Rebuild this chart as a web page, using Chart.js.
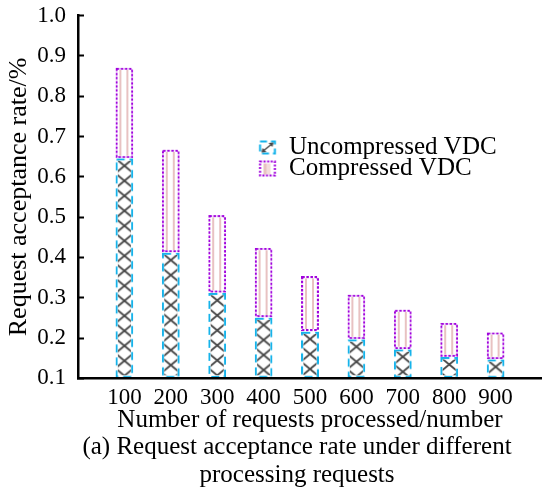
<!DOCTYPE html>
<html>
<head>
<meta charset="utf-8">
<script src="https://cdn.jsdelivr.net/npm/chart.js@4.4.1/dist/chart.umd.min.js"></script>
<style>
  html, body { margin: 0; padding: 0; background: #fff; }
</style>
</head>
<body>
<canvas id="chart" width="542" height="493"></canvas>
<script>
// data
const requests = [100, 200, 300, 400, 500, 600, 700, 800, 900];
const uncompressed = [0.646, 0.412, 0.312, 0.251, 0.216, 0.197, 0.172, 0.153, 0.147];
const compressed = [0.871, 0.668, 0.505, 0.424, 0.354, 0.308, 0.271, 0.238, 0.214];
const yTicks = [0.1, 0.2, 0.3, 0.4, 0.5, 0.6, 0.7, 0.8, 0.9, 1.0];
const seriesNames = ['Uncompressed VDC', 'Compressed VDC'];
const yTitle = 'Request acceptance rate/%';
const xTitle = 'Number of requests processed/number';
const caption = ['(a) Request acceptance rate under different', 'processing requests'];

const CYAN = '#16b3ea';
const PURPLE = '#a000dc';
const PINK = '#e8c2c2';
const HATCH = '#474747';
const BAR_W = 18;
const BORDER = 2.5;

const LEGEND_LEFT = 258.5;
const LEGEND_TOP = 135;
const LEGEND_GAP = -4;
const LEGEND_FONT = 25;
const ICON_BOX = 22;

Chart.defaults.font.family = "'Liberation Serif', 'Times New Roman', serif";
Chart.defaults.color = '#000';

function makeCanvas(w, h) {
    const c = document.createElement('canvas');
    c.width = Math.max(1, Math.ceil(w));
    c.height = Math.max(1, Math.ceil(h));
    return c;
}

// chain of X's inside the uncompressed bars
const hatchTile = (() => {
    const c = makeCanvas(BAR_W, 15), g = c.getContext('2d');
    g.fillStyle = '#fff';
    g.fillRect(0, 0, BAR_W, 15);
    g.strokeStyle = HATCH;
    g.lineWidth = 1.8;
    g.beginPath();
    g.moveTo(0, 0); g.lineTo(BAR_W, 15);
    g.moveTo(BAR_W, 0); g.lineTo(0, 15);
    g.stroke();
    return c;
})();

// two pink stripes inside the compressed bars
const stripeTile = (() => {
    const c = makeCanvas(BAR_W, 1), g = c.getContext('2d');
    g.fillStyle = '#fff';
    g.fillRect(0, 0, BAR_W, 1);
    g.fillStyle = PINK;
    g.fillRect(4, 0, 2, 1);
    g.fillRect(11, 0, 2, 1);
    return c;
})();

function dashedFrame(w, h, color, dash) {
    const c = makeCanvas(w + 1, h + 1), g = c.getContext('2d');
    g.strokeStyle = color;
    g.lineWidth = BORDER;
    g.setLineDash(dash);
    g.strokeRect(BORDER / 2, BORDER / 2, w - BORDER, h - BORDER);
    return c;
}

function barGeom(ctx) {
    const {chart, dataIndex: i, datasetIndex: d} = ctx;
    const lo = d === 0 ? yTicks[0] : uncompressed[i];
    const hi = d === 0 ? uncompressed[i] : compressed[i];
    const x = chart.scales.x.getPixelForValue(requests[i]);
    const top = chart.scales.y.getPixelForValue(hi);
    const bottom = chart.scales.y.getPixelForValue(lo);
    return {left: x - BAR_W / 2, top: top, h: bottom - top};
}

function anchored(chart, source, left, top, repeat) {
    const p = chart.ctx.createPattern(source, repeat);
    p.setTransform(new DOMMatrix().translate(left, top));
    return p;
}

function barFill(tile, fallback) {
    return ctx => {
        if (ctx.type !== 'data') return fallback;
        const b = barGeom(ctx);
        if (!isFinite(b.left) || !isFinite(b.top)) return fallback;
        return anchored(ctx.chart, tile, b.left, b.top, 'repeat');
    };
}

function barFrame(color, dash) {
    return ctx => {
        if (ctx.type !== 'data') return color;
        const b = barGeom(ctx);
        if (!isFinite(b.left) || !isFinite(b.h) || b.h <= 0) return color;
        return anchored(ctx.chart, dashedFrame(BAR_W, b.h, color, dash), b.left, b.top, 'no-repeat');
    };
}

// legend swatches, drawn a few px to the right because the legend clips its left strip
function legendTile(kind) {
    const c = makeCanvas(ICON_BOX, LEGEND_FONT), g = c.getContext('2d');
    const ox = -LEGEND_GAP;
    const cy = LEGEND_FONT / 2;
    if (kind === 0) {
        g.strokeStyle = CYAN;
        g.lineWidth = 2.2;
        g.setLineDash([7, 4]);
        g.strokeRect(ox + 1.5, cy - 6, 15, 12);
        g.setLineDash([]);
        g.strokeStyle = HATCH;
        g.fillStyle = HATCH;
        g.lineWidth = 1.5;
        g.beginPath();
        g.moveTo(ox + 4, cy + 4); g.lineTo(ox + 14, cy - 4);
        g.stroke();
        g.beginPath();
        g.moveTo(ox + 15, cy - 5); g.lineTo(ox + 10, cy - 4.5); g.lineTo(ox + 14, cy - 0.5);
        g.closePath(); g.fill();
        g.beginPath();
        g.moveTo(ox + 3, cy + 5); g.lineTo(ox + 8, cy + 4.5); g.lineTo(ox + 4, cy + 0.5);
        g.closePath(); g.fill();
    } else {
        g.fillStyle = PINK;
        g.fillRect(ox + 5, cy - 5, 3, 11);
        g.fillStyle = '#f3dcdc';
        g.fillRect(ox + 8, cy - 5, 4, 11);
        g.strokeStyle = PURPLE;
        g.lineWidth = 2.2;
        g.setLineDash([2, 1.6]);
        g.strokeRect(ox + 1.5, cy - 7, 15, 14);
    }
    return c;
}
const legendTiles = [legendTile(0), legendTile(1)];

const placeBoxes = {
    id: 'placeBoxes',
    afterLayout(chart) {
        if (chart.legend) {
            chart.legend.left = LEGEND_LEFT;
            chart.legend.top = LEGEND_TOP;
        }
        if (chart.titleBlock) {
            chart.titleBlock.left = 52;
        }
    }
};

new Chart(document.getElementById('chart'), {
    type: 'bar',
    data: {
        labels: requests,
        datasets: [
            {
                label: seriesNames[0],
                data: uncompressed,
                base: yTicks[0],
                backgroundColor: barFill(hatchTile, '#fff'),
                borderColor: barFrame(CYAN, [8, 5]),
                borderWidth: BORDER,
                borderSkipped: false,
                inflateAmount: 0,
                grouped: false,
                barThickness: BAR_W
            },
            {
                label: seriesNames[1],
                data: uncompressed.map((u, i) => [u, compressed[i]]),
                backgroundColor: barFill(stripeTile, '#fff'),
                borderColor: barFrame(PURPLE, [2.5, 1.6]),
                borderWidth: BORDER,
                borderSkipped: false,
                inflateAmount: 0,
                grouped: false,
                barThickness: BAR_W
            }
        ]
    },
    options: {
        responsive: false,
        animation: false,
        events: [],
        devicePixelRatio: 1,
        layout: {padding: {top: 15.6, bottom: 2.9, left: 0, right: 0}},
        scales: {
            x: {
                type: 'linear',
                min: 0,
                max: 1000,
                offset: false,
                afterBuildTicks: scale => { scale.ticks = requests.map(v => ({value: v})); },
                afterFit: scale => { scale.height = 54.8; },
                grid: {display: true, drawOnChartArea: false, drawTicks: false},
                border: {display: true, color: '#000', width: 2.5, z: 1},
                ticks: {
                    autoSkip: false,
                    maxRotation: 0,
                    padding: 8.5,
                    font: {size: 23, lineHeight: 1},
                    callback: v => String(v)
                },
                title: {
                    display: true,
                    text: xTitle,
                    font: {size: 25, lineHeight: 1},
                    padding: {top: 0, bottom: 0}
                }
            },
            y: {
                min: yTicks[0],
                max: yTicks[yTicks.length - 1],
                afterBuildTicks: scale => { scale.ticks = yTicks.map(v => ({value: v})); },
                afterFit: scale => {
                    scale.width = 78;
                    scale.paddingTop = 0;
                    scale.paddingBottom = 0;
                },
                grid: {
                    drawOnChartArea: false,
                    drawTicks: true,
                    tickLength: -6,
                    tickWidth: 2,
                    tickColor: '#000',
                    color: '#000'
                },
                border: {display: true, color: '#000', width: 2.5},
                ticks: {
                    padding: 18,
                    font: {size: 23, lineHeight: 1},
                    callback: v => v.toFixed(1)
                },
                title: {
                    display: true,
                    text: yTitle,
                    font: {size: 26, lineHeight: 1},
                    padding: {top: 6, bottom: 0}
                }
            }
        },
        plugins: {
            legend: {
                position: 'chartArea',
                align: 'start',
                // an empty, 4px title keeps the first row clear of the legend's clip edge
                title: {display: true, text: '', font: {size: 1, lineHeight: 1}, padding: {top: 3, bottom: 0}},
                labels: {
                    boxWidth: ICON_BOX,
                    boxHeight: LEGEND_FONT,
                    padding: LEGEND_GAP,
                    font: {size: LEGEND_FONT},
                    color: '#000',
                    generateLabels: chart => seriesNames.map((name, i) => ({
                        text: name,
                        datasetIndex: i,
                        hidden: false,
                        lineWidth: 0,
                        strokeStyle: 'rgba(0,0,0,0)',
                        fillStyle: anchored(chart, legendTiles[i], LEGEND_LEFT + LEGEND_GAP,
                            LEGEND_TOP + i * (LEGEND_FONT + LEGEND_GAP), 'no-repeat')
                    }))
                }
            },
            title: {
                display: true,
                position: 'bottom',
                text: caption,
                font: {size: 25, lineHeight: 1.14, weight: 'normal'},
                padding: {top: 0, bottom: 0}
            },
            tooltip: {enabled: false}
        }
    },
    plugins: [placeBoxes]
});
</script>
</body>
</html>
